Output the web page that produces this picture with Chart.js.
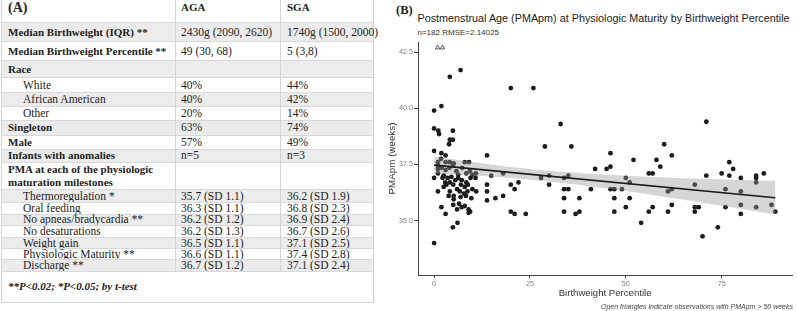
<!DOCTYPE html>
<html>
<head>
<meta charset="utf-8">
<script src="https://cdn.jsdelivr.net/npm/chart.js@4.4.1/dist/chart.umd.min.js"></script>
<style>
  body { margin: 0; width: 797px; height: 311px; overflow: hidden; background: #fff; position: relative; font-family: "Liberation Sans", Arial, sans-serif; }
  #tbl { position: absolute; left: 1px; top: 0; width: 371px; height: 302px; font-family: "Liberation Serif", "Times New Roman", serif; color: #222; border-left: 1px solid #d4d4d4; border-right: 1px solid #d4d4d4; border-bottom: 1px solid #d4d4d4; }
  .row { position: absolute; left: 0; width: 371px; border-top: 1px solid #d9d9d9; box-sizing: border-box; }
  .row.grey { background: #ececec; }
  .cell { position: absolute; top: 0; bottom: 0; display: flex; align-items: center; white-space: nowrap; font-size: 11.5px; line-height: 11px; }
  .c1 { left: 6px; width: 168px; }
  .c2 { left: 179px; width: 100px; }
  .c3 { left: 285px; width: 86px; }
  .b { font-weight: bold; font-size: 11px; }
  .multi { line-height: 13px; }
  .ind { padding-left: 15px; }
  .vline { position: absolute; top: 0; width: 0; border-left: 1px solid #d4d4d4; }
  .txt { position: absolute; white-space: nowrap; line-height: 1; }
  #chartBox { position: absolute; left: 370px; top: 0; width: 427px; height: 311px; }
</style>
</head>
<body>
<div id="tbl"></div>
<div class="txt" style="left:396px;top:4px;font-family:'Liberation Serif',serif;font-weight:bold;font-size:12.5px;color:#222;">(B)</div>
<div class="txt" style="left:417.5px;top:12.5px;font-size:10.8px;color:#222;">Postmenstrual Age (PMApm) at Physiologic Maturity by Birthweight Percentile</div>
<div class="txt" style="left:417.5px;top:29px;font-size:8px;color:#333;">n=182 RMSE=2.14025</div>
<div id="chartBox"><canvas id="pmaChart" width="427" height="311"></canvas></div>
<div class="txt" style="right:4px;top:302.5px;font-size:7px;font-style:italic;color:#444;">Open triangles indicate observations with PMApm &gt; 50 weeks</div>
<script>
// Table (A)
const rowLabels = ['(A)', 'Median Birthweight (IQR) **', 'Median Birthweight Percentile **', 'Race', 'White', 'African American', 'Other',
  'Singleton', 'Male', 'Infants with anomalies', 'PMA at each of the physiologic<br>maturation milestones', 'Thermoregulation *', 'Oral feeding',
  'No apneas/bradycardia **', 'No desaturations', 'Weight gain', 'Physiologic Maturity **', 'Discharge **'];
const agaValues = ['AGA', '2430g (2090, 2620)', '49 (30, 68)', '', '40%', '40%', '20%', '63%', '57%', 'n=5', '',
  '35.7 (SD 1.1)', '36.3 (SD 1.1)', '36.2 (SD 1.2)', '36.2 (SD 1.3)', '36.5 (SD 1.1)', '36.6 (SD 1.1)', '36.7 (SD 1.2)'];
const sgaValues = ['SGA', '1740g (1500, 2000)', '5 (3,8)', '', '44%', '42%', '14%', '74%', '49%', 'n=3', '',
  '36.2 (SD 1.9)', '36.8 (SD 2.3)', '36.9 (SD 2.4)', '36.7 (SD 2.6)', '37.1 (SD 2.5)', '37.4 (SD 2.8)', '37.1 (SD 2.4)'];
const boldRows = [0, 1, 2, 3, 7, 8, 9, 10];
const footNote = '**P&lt;0.02; *P&lt;0.05; by t-test';

// row edges in px
const rowTops = [0, 22, 41, 60, 77, 92, 106, 120, 134.5, 148.5, 161.5, 189, 202, 213.5, 225, 237, 248, 259, 271, 301];

const tbl = document.getElementById('tbl');
let html = '';
rowLabels.forEach((lab, i) => {
  const h = rowTops[i + 1] - rowTops[i];
  const grey = i % 2 === 1 ? ' grey' : '';
  let cls = boldRows.includes(i) ? ' b' : ' ind';
  if (i === 10) cls += ' multi';
  const labStyle = i === 0 ? ' style="font-size:14px;line-height:14px;align-items:flex-start;padding-top:1px"' : '';
  const valCls = i === 0 ? ' b' : '';
  const valStyle = i === 0 ? ' style="align-items:flex-start;padding-top:2px"' : '';
  html += `<div class="row${grey}" style="top:${rowTops[i]}px;height:${h}px;${i === 0 ? 'border-top:none;' : ''}">
    <div class="cell c1${cls}"${labStyle}>${lab}</div>
    <div class="cell c2${valCls}"${valStyle}>${agaValues[i]}</div>
    <div class="cell c3${valCls}"${valStyle}>${sgaValues[i]}</div></div>`;
});
const last = rowLabels.length;
html += `<div class="row" style="top:${rowTops[last]}px;height:${rowTops[last + 1] - rowTops[last]}px;">
  <div class="cell c1 b" style="font-style:italic;width:360px;">${footNote}</div></div>`;
html += `<div class="vline" style="left:173px;height:${rowTops[last]}px"></div>`;
html += `<div class="vline" style="left:278px;height:${rowTops[last]}px"></div>`;
tbl.innerHTML = html;

// Chart (B) data: birthweight percentile vs PMA at physiologic maturity
const pctX = [
  0, 1.9, 4.1, 6.9, 20, 25.9, 0, 1.1, 1.3, 4.9, 4.1, 4.9, 3.9, 0, 1.9, 3.0, 13.8, 0, 4.9, 6.1,
  0, 1.0, 1.9, 3.0, 2.2, 2.9, 3.2, 4.1, 4.1, 5.0, 5.1, 5.1, 6.0, 6.3, 6.7, 6.9, 7.2, 7.2, 8.0, 8.0,
  8.3, 8.4, 8.7, 9.0, 9.0, 9.4, 9.7, 10, 11, 10.8, 4.1, 5.1, 5.0, 6.0, 3.5, 4.5, 5.5, 7.0, 7.8, 9.5,
  2.5, 3.8, 6.5, 8.8,
  1, 1, 1, 1, 2, 3, 3, 4, 5, 5.8, 6.3, 7.3, 8, 8.4, 9.1, 9.3, 10, 10.9, 1.8, 2.5,
  13.8, 13.8, 13.8, 14.9, 16, 18, 18, 20, 21, 22, 20, 21, 23.9,
  28.9, 27.9, 30, 30, 33, 35.8, 33.9, 35, 33.9, 35, 33.9, 33.9, 37.9, 36.9, 37.9,
  40.9, 42, 45, 46, 46, 46, 47, 47, 47, 49, 50, 51, 50, 51, 52, 54,
  56, 57, 56, 57, 58, 59, 60, 61, 62, 62, 62, 61,
  68, 68, 69, 68, 70, 71, 71, 74, 75, 76, 76, 77, 77, 78, 80, 80, 80, 80,
  84, 84, 84, 84, 86, 88, 89
];
const pmaY = [
  39.9, 40.1, 41.4, 41.7, 40.9, 40.9, 39.1, 39.0, 38.85, 39.0, 38.6, 38.6, 38.4, 38.1, 38.0, 37.9, 37.9, 34.0, 34.7, 34.9,
  36.9, 36.3, 35.6, 35.3, 36.9, 36.7, 36.6, 36.7, 36.3, 36.6, 36.1, 35.95, 36.4, 36.9, 36.3, 36.05, 36.8, 35.6, 35.65, 36.5,
  36.1, 36.7, 36.3, 35.35, 35.5, 35.4, 36.0, 36.4, 36.3, 36.9, 37.6, 37.55, 35.7, 35.5, 36.9, 36.95, 36.8, 36.6, 36.2, 36.9,
  36.5, 36.1, 35.75, 36.6,
  37.6, 37.45, 37.3, 37.1, 37.35, 37.6, 37.25, 37.35, 37.5, 37.2, 37.05, 37.35, 37.6, 37.1, 37.6, 37.2, 37.05, 37.1, 37.75, 37.0,
  36.6, 36.3, 35.9, 37.0, 36.0, 36.1, 37.1, 36.6, 36.4, 36.7, 35.4, 35.3, 35.3,
  38.3, 36.9, 37.0, 36.6, 39.3, 38.3, 36.9, 37.0, 36.4, 36.4, 36.0, 35.4, 36.0, 35.3, 35.4,
  36.4, 37.3, 37.3, 37.4, 38.0, 36.4, 36.4, 36.0, 35.4, 36.4, 36.9, 36.7, 35.6, 36.0, 37.7, 34.9,
  37.1, 37.1, 35.4, 35.6, 37.7, 37.4, 38.4, 36.3, 36.4, 37.9, 35.7, 35.4,
  36.6, 35.6, 35.6, 35.4, 34.3, 39.4, 37.0, 34.7, 37.1, 36.4, 35.6, 37.6, 37.0, 37.3, 36.9, 36.3, 35.7, 35.3,
  37.0, 36.9, 36.7, 35.6, 37.1, 35.7, 35.4
];
// observations above 50 weeks, shown at top as open triangles
const triX = [0.9, 2.2];
const triY = [42.7, 42.7];

// linear fit and 95% band
const fitX = [0, 89];
const fitY = [37.47, 36.02];
const bandX = [0, 10, 20, 30, 40, 50, 60, 70, 80, 89];
const bandUpper = [37.84, 37.61, 37.39, 37.22, 37.10, 37.00, 36.92, 36.86, 36.81, 36.77];
const bandLower = [37.10, 37.01, 36.90, 36.74, 36.54, 36.32, 36.06, 35.80, 35.53, 35.27];

const xTicks = [0, 25, 50, 75];
const yTicks = [35, 37.5, 40, 42.5];

const pts = (xs, ys) => xs.map((x, i) => ({ x: x, y: ys[i] }));

const tickColor = '#7f7f7f';
const axisColor = '#444';

Chart.defaults.font.family = '"Liberation Sans", Arial, sans-serif';

const ctx = document.getElementById('pmaChart').getContext('2d');
new Chart(ctx, {
  type: 'scatter',
  data: {
    datasets: [
      { data: pts(fitX, fitY), showLine: true, borderColor: '#1a1a1a', borderWidth: 1.6, pointRadius: 0, order: 0 },
      { data: pts(bandX, bandUpper), showLine: true, borderWidth: 0, borderColor: 'rgba(0,0,0,0)', pointRadius: 0,
        tension: 0.3, fill: '+1', backgroundColor: 'rgba(153,153,153,0.4)', order: 1 },
      { data: pts(bandX, bandLower), showLine: true, borderWidth: 0, borderColor: 'rgba(0,0,0,0)', pointRadius: 0,
        tension: 0.3, fill: false, order: 2 },
      { data: pts(pctX, pmaY), pointRadius: 2.4, backgroundColor: '#1c1c1c', borderWidth: 0, order: 3 },
      { data: pts(triX, triY), pointStyle: 'triangle', pointRadius: 2.6, backgroundColor: 'rgba(0,0,0,0)',
        borderColor: '#333', borderWidth: 0.8, order: 3 }
    ]
  },
  options: {
    responsive: false,
    animation: false,
    devicePixelRatio: 1,
    layout: { padding: { left: 6, right: 2, top: 42, bottom: 10 } },
    plugins: { legend: { display: false }, tooltip: { enabled: false } },
    scales: {
      x: {
        type: 'linear', min: -4.2, max: 93.4,
        afterBuildTicks: s => { s.ticks = xTicks.map(v => ({ value: v })); },
        afterFit: s => { s.height = 26; },
        ticks: { color: tickColor, font: { size: 7.2 }, padding: 2, callback: v => v },
        grid: { drawOnChartArea: false, tickLength: 3, color: axisColor },
        border: { color: axisColor, width: 1 },
        title: { display: true, text: 'Birthweight Percentile', color: '#333', font: { size: 9.6 }, padding: { top: 0, bottom: 2 } }
      },
      y: {
        type: 'linear', min: 32.58, max: 42.95,
        afterBuildTicks: s => { s.ticks = yTicks.map(v => ({ value: v })); },
        afterFit: s => { s.width = 42; },
        ticks: { color: tickColor, font: { size: 7.2 }, padding: 1, callback: v => v.toFixed(1) },
        grid: { drawOnChartArea: false, tickLength: 4, color: axisColor },
        border: { color: axisColor, width: 1 },
        title: { display: true, text: 'PMApm (weeks)', color: '#333', font: { size: 9.8 }, padding: { top: 10, bottom: 0 } }
      }
    }
  }
});
</script>
</body>
</html>
